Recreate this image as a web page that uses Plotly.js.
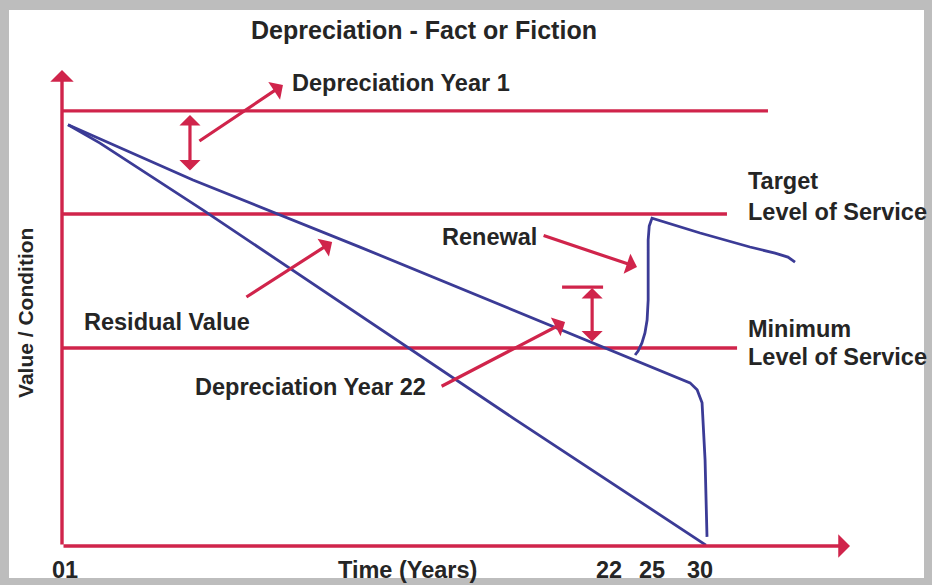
<!DOCTYPE html>
<html>
<head>
<meta charset="utf-8">
<script src="https://cdn.plot.ly/plotly-3.0.1.min.js"></script>
<style>
  html, body { margin: 0; padding: 0; background: #bdbdbd; }
  #chart { width: 932px; height: 585px; }
</style>
</head>
<body>
<div id="chart"></div>
<script>
(function () {
  "use strict";

  // schematic time axis: 0 = start, 30 = end of asset life
  const YEAR_TICKS = [0.14, 25.48, 27.48, 29.72];
  const YEAR_LABELS = ["01", "22", "25", "30"];

  // value / condition levels (100 = new asset)
  const LEVEL_NAMES = ["initial", "target", "minimum", "gap"];
  const LEVEL_VALUES = [100, 76.3, 45.5, 59.5];
  const LEVEL_START = [0, 0, 0, 23.29];
  const LEVEL_END = [32.88, 30.97, 31.44, 25.2];

  // straight-line book depreciation
  const STRAIGHT_X = [0.28, 1.77, 6.57, 11.09, 21.01, 29.99];
  const STRAIGHT_Y = [96.8, 92.6, 77.2, 62.3, 29.4, 0.2];

  // actual condition / residual value
  const CONDITION_X = [0.28, 6.1, 13.88, 26.92, 29.25, 29.58, 29.81, 29.95, 30.04];
  const CONDITION_Y = [96.8, 84.1, 68.7, 42.3, 37.5, 35.9, 32.9, 19.8, 2.1];

  // renewal back up to target level
  const RENEWAL_X = [26.69, 26.83, 27.01, 27.15, 27.25, 27.3, 27.3, 27.35, 27.48, 29.72, 32.04, 33.21, 33.81, 34.14];
  const RENEWAL_Y = [43.9, 44.82, 46.66, 48.95, 51.94, 56.54, 70.33, 73.55, 75.35, 71.94, 68.72, 67.31, 66.39, 65.24];

  const RED = "#d0244b";
  const BLUE = "#3b3b96";
  const INK = "#252525";
  const FONT = "Liberation Sans, Arial, sans-serif";
  const LABEL_SIZE = 23.5;

  function lineTrace(x, y, color, width) {
    return {
      x: x,
      y: y,
      mode: "lines",
      type: "scatter",
      line: { color: color, width: width },
      hoverinfo: "skip",
      showlegend: false,
      cliponaxis: false
    };
  }

  function label(text, x, y, anchor, extra) {
    return Object.assign({
      text: "<b>" + text + "</b>",
      x: x,
      y: y,
      xref: "x",
      yref: "y",
      xanchor: anchor || "left",
      yanchor: "middle",
      showarrow: false,
      font: { family: FONT, size: LABEL_SIZE, color: INK }
    }, extra || {});
  }

  function arrow(tailX, tailY, headX, headY, extra) {
    return Object.assign({
      text: "",
      x: headX,
      y: headY,
      ax: tailX,
      ay: tailY,
      xref: "x",
      yref: "y",
      axref: "x",
      ayref: "y",
      showarrow: true,
      arrowhead: 1,
      arrowsize: 1.1,
      arrowwidth: 3.2,
      arrowcolor: RED,
      standoff: 0,
      startstandoff: 0
    }, extra || {});
  }

  const traces = [];
  LEVEL_NAMES.forEach(function (name, i) {
    traces.push(lineTrace([LEVEL_START[i], LEVEL_END[i]], [LEVEL_VALUES[i], LEVEL_VALUES[i]], RED, 3.4));
  });
  traces.push(lineTrace(STRAIGHT_X, STRAIGHT_Y, BLUE, 2.8));
  traces.push(lineTrace(CONDITION_X, CONDITION_Y, BLUE, 2.8));
  traces.push(lineTrace(RENEWAL_X, RENEWAL_Y, BLUE, 2.8));

  // label row under the time axis sits just below the plot area
  const BELOW_AXIS = -0.05;

  const annotations = [
    // axes
    arrow(0, 0, 0, 109.4, { arrowsize: 1.15, arrowwidth: 3.4 }),
    arrow(0, 0, 36.7, 0, { arrowsize: 1.15, arrowwidth: 3.4 }),
    // pointers
    arrow(6.33, 92.85, 10.29, 105.95),
    arrow(8.52, 57.0, 12.58, 69.87),
    arrow(22.36, 71.48, 26.78, 64.12),
    arrow(17.61, 36.54, 23.43, 51.48),
    // double-headed gaps
    arrow(5.96, 85.96, 5.96, 99.06, { arrowside: "end+start" }),
    arrow(24.69, 46.66, 24.69, 59.3, { arrowside: "end+start" }),
    // labels
    label("Depreciation Year 1", 10.62, 106.4),
    label("Target", 31.86, 83.89),
    label("Level of Service", 31.86, 76.76),
    label("Renewal", 17.61, 71.02),
    label("Residual Value", 0.93, 51.48),
    label("Minimum", 31.86, 49.87),
    label("Level of Service", 31.86, 43.44),
    label("Depreciation Year 22", 6.1, 36.54),
    label("Time (Years)", 16.07, BELOW_AXIS, "center", { yref: "paper" }),
    label("Value / Condition", -0.047, 53.55, "center", {
      xref: "paper",
      textangle: -90,
      font: { family: FONT, size: 21, color: INK }
    })
  ];
  YEAR_TICKS.forEach(function (t, i) {
    annotations.push(label(YEAR_LABELS[i], t, BELOW_AXIS, "center", { yref: "paper" }));
  });

  const layout = {
    width: 932,
    height: 585,
    margin: { l: 62, r: 82, t: 70, b: 39 },
    paper_bgcolor: "#bdbdbd",
    plot_bgcolor: "rgba(0,0,0,0)",
    title: {
      text: "<b>Depreciation - Fact or Fiction</b>",
      x: 424 / 932,
      y: 1 - 30 / 585,
      xref: "container",
      yref: "container",
      xanchor: "center",
      yanchor: "middle",
      font: { family: FONT, size: 25, color: INK }
    },
    xaxis: {
      range: [0, 36.7],
      showgrid: false,
      zeroline: false,
      showline: false,
      showticklabels: false,
      ticks: ""
    },
    yaxis: {
      range: [0, 109.4],
      showgrid: false,
      zeroline: false,
      showline: false,
      showticklabels: false,
      ticks: ""
    },
    shapes: [
      {
        type: "rect",
        xref: "paper",
        yref: "paper",
        x0: (9 - 62) / 788,
        x1: (924 - 62) / 788,
        y0: (546 - 578) / 476,
        y1: (546 - 10) / 476,
        fillcolor: "#ffffff",
        line: { width: 0 },
        layer: "below"
      }
    ],
    annotations: annotations,
    showlegend: false
  };

  Plotly.newPlot("chart", traces, layout, { displayModeBar: false, staticPlot: true });
})();
</script>
</body>
</html>
